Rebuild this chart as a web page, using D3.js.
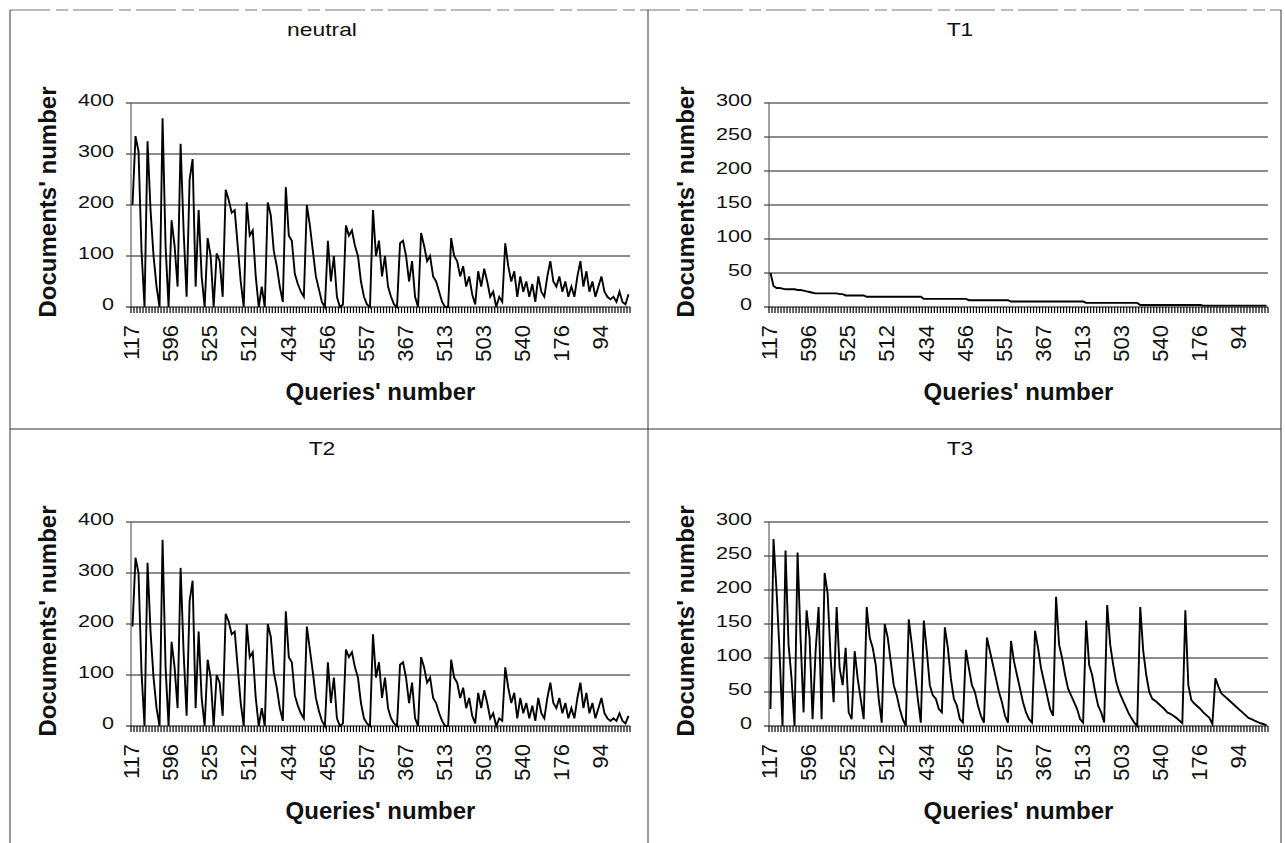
<!DOCTYPE html>
<html>
<head>
<meta charset="utf-8">
<script src="https://cdn.jsdelivr.net/npm/d3@7"></script>
<style>
  body { margin: 0; background: #fff; }
  text { font-family: "Liberation Sans", Arial, sans-serif; fill: #111; }
</style>
</head>
<body>
<div id="chart"></div>
<script>
// query numbers shown on the category axis (one label every 13 queries)
var tickLabels = ["117", "596", "525", "512", "434", "456", "557", "367", "513", "503", "540", "176", "94"];
var labelStep = 13;

// documents per query, one value per query
var neutralDocs = [
  200, 335, 305, 110, 0, 325, 190, 100, 40, 0, 370, 120, 0, 170, 120, 40, 320, 150, 20, 250,
  290, 40, 190, 60, 0, 135, 100, 0, 105, 90, 20, 230, 210, 185, 190, 120, 50, 0, 205, 140,
  150, 60, 0, 40, 0, 205, 180, 110, 80, 40, 10, 235, 140, 130, 65, 45, 30, 20, 200, 160,
  110, 60, 35, 10, 0, 130, 50, 100, 20, 0, 5, 160, 140, 150, 120, 100, 50, 20, 5, 0,
  190, 100, 130, 60, 100, 40, 20, 5, 0, 125, 130, 100, 50, 90, 20, 0, 145, 120, 90, 100,
  60, 50, 30, 10, 0, 0, 135, 100, 90, 60, 80, 40, 60, 25, 5, 70, 40, 75, 50, 20,
  30, 0, 20, 10, 125, 80, 50, 70, 20, 60, 30, 50, 20, 45, 10, 60, 30, 20, 60, 90,
  50, 40, 60, 30, 50, 20, 40, 20, 60, 90, 40, 70, 30, 50, 20, 40, 60, 30, 20, 15,
  20, 10, 30, 10, 5, 25
];

var t1Docs = [
  50, 31, 28, 28, 27, 26, 26, 26, 26, 25, 25, 24, 23, 22, 21, 20, 20, 20, 20, 20,
  20, 20, 20, 19, 19, 17, 17, 17, 17, 17, 17, 17, 15, 15, 15, 15, 15, 15, 15, 15,
  15, 15, 15, 15, 15, 15, 15, 15, 15, 15, 15, 12, 12, 12, 12, 12, 12, 12, 12, 12,
  12, 12, 12, 12, 12, 12, 10, 10, 10, 10, 10, 10, 10, 10, 10, 10, 10, 10, 10, 10,
  8, 8, 8, 8, 8, 8, 8, 8, 8, 8, 8, 8, 8, 8, 8, 8, 8, 8, 8, 8,
  8, 8, 8, 8, 8, 6, 6, 6, 6, 6, 6, 6, 6, 6, 6, 6, 6, 6, 6, 6,
  6, 6, 6, 3, 3, 3, 3, 3, 3, 3, 3, 3, 3, 3, 3, 3, 3, 3, 3, 3,
  3, 3, 3, 3, 2, 2, 2, 2, 2, 2, 2, 2, 2, 2, 2, 2, 2, 2, 2, 2,
  2, 2, 2, 2, 2, 2
];

var t2Docs = [
  195, 330, 300, 105, 0, 320, 185, 95, 35, 0, 365, 115, 0, 165, 115, 35, 310, 145, 20, 245,
  285, 35, 185, 55, 0, 130, 95, 0, 100, 85, 20, 220, 205, 180, 185, 115, 45, 0, 200, 135,
  145, 55, 0, 35, 0, 200, 175, 105, 75, 35, 10, 225, 135, 125, 60, 40, 25, 15, 195, 150,
  105, 55, 30, 10, 0, 125, 45, 95, 15, 0, 5, 150, 135, 145, 115, 95, 45, 15, 5, 0,
  180, 95, 125, 55, 95, 35, 15, 5, 0, 120, 125, 95, 45, 85, 15, 0, 135, 115, 85, 95,
  55, 45, 25, 10, 0, 0, 130, 95, 85, 55, 75, 35, 55, 20, 5, 65, 35, 70, 45, 15,
  25, 0, 15, 10, 115, 75, 45, 65, 15, 55, 25, 45, 15, 40, 10, 55, 25, 15, 55, 85,
  45, 35, 55, 25, 45, 15, 35, 15, 55, 85, 35, 65, 25, 45, 15, 35, 55, 25, 15, 10,
  15, 10, 25, 10, 5, 20
];

var t3Docs = [
  25, 275, 200, 110, 0, 258, 120, 70, 0, 255, 130, 20, 170, 130, 10, 110, 175, 10, 225, 195,
  100, 35, 175, 85, 60, 115, 20, 10, 110, 70, 40, 10, 175, 130, 115, 90, 40, 5, 150, 130,
  95, 60, 45, 25, 10, 0, 157, 120, 80, 40, 5, 155, 110, 60, 45, 40, 25, 20, 145, 115,
  70, 40, 30, 10, 5, 112, 85, 60, 50, 30, 15, 5, 130, 110, 90, 70, 50, 35, 15, 5,
  125, 95, 75, 55, 35, 20, 10, 5, 140, 115, 85, 65, 45, 25, 15, 190, 120, 100, 75, 55,
  45, 35, 25, 10, 5, 155, 90, 75, 50, 30, 20, 5, 178, 120, 90, 65, 50, 40, 30, 20,
  12, 5, 0, 175, 110, 75, 50, 40, 37, 33, 29, 25, 20, 18, 15, 12, 8, 4, 170, 60,
  38, 33, 29, 25, 20, 16, 12, 3, 70, 58, 48, 44, 40, 36, 32, 28, 24, 20, 16, 12,
  10, 8, 6, 4, 3, 1
];

var panels = [
  { title: "neutral", values: neutralDocs, yTicks: [0, 100, 200, 300, 400], left: 10, top: 10 },
  { title: "T1", values: t1Docs, yTicks: [0, 50, 100, 150, 200, 250, 300], left: 648, top: 10 },
  { title: "T2", values: t2Docs, yTicks: [0, 100, 200, 300, 400], left: 10, top: 429 },
  { title: "T3", values: t3Docs, yTicks: [0, 50, 100, 150, 200, 250, 300], left: 648, top: 429 }
];

var width = 1285, height = 843;
var plotX = 121, plotY = 93, plotW = 499, plotH = 204;

var svg = d3.select("#chart").append("svg")
    .attr("width", width)
    .attr("height", height);

// frame around the four charts
var frame = svg.append("g").attr("stroke", "#333").attr("stroke-width", 1);
frame.append("line").attr("x1", 10).attr("y1", 10).attr("x2", 1281).attr("y2", 10)
    .attr("stroke", "#777").attr("stroke-dasharray", "40,6,12,5");
frame.append("line").attr("x1", 10).attr("y1", 10).attr("x2", 10).attr("y2", height);
frame.append("line").attr("x1", 648).attr("y1", 10).attr("x2", 648).attr("y2", height);
frame.append("line").attr("x1", 1281).attr("y1", 10).attr("x2", 1281).attr("y2", height);
frame.append("line").attr("x1", 10).attr("y1", 429).attr("x2", 1281).attr("y2", 429);

panels.forEach(function(p) {
  var g = svg.append("g").attr("transform", "translate(" + p.left + "," + p.top + ")");

  g.append("text")
      .attr("text-anchor", "middle")
      .attr("transform", "translate(312,26) scale(1.27,1)")
      .style("font-size", "18px")
      .text(p.title);

  var plot = g.append("g").attr("transform", "translate(" + plotX + "," + plotY + ")");

  var idx = d3.range(p.values.length);
  var x = d3.scaleBand().domain(idx).range([0, plotW]);
  var y = d3.scaleLinear().domain([0, d3.max(p.yTicks)]).range([plotH, 0]);

  // gridlines with small outside ticks
  plot.selectAll(".grid")
      .data(p.yTicks.filter(function(d) { return d > 0; }))
      .enter().append("line")
      .attr("x1", -5).attr("x2", plotW)
      .attr("y1", function(d) { return y(d); })
      .attr("y2", function(d) { return y(d); })
      .attr("stroke", "#1a1a1a");

  plot.selectAll(".ylab")
      .data(p.yTicks)
      .enter().append("text")
      .attr("text-anchor", "end")
      .attr("dy", "0.3em")
      .attr("transform", function(d) { return "translate(-17," + (y(d) - 2) + ") scale(1.35,1)"; })
      .style("font-size", "16px")
      .text(function(d) { return d; });

  // value axis line
  plot.append("line")
      .attr("x1", 0).attr("x2", 0).attr("y1", 0).attr("y2", plotH)
      .attr("stroke", "#444");

  // category axis: one tick per query plus the labelled ones
  plot.append("g")
      .attr("transform", "translate(0," + plotH + ")")
      .selectAll("line")
      .data(idx.concat([idx.length]))
      .enter().append("line")
      .attr("x1", function(d) { return d < idx.length ? x(d) : plotW; })
      .attr("x2", function(d) { return d < idx.length ? x(d) : plotW; })
      .attr("y1", 0).attr("y2", 6)
      .attr("stroke", "#000")
      .attr("stroke-width", 1.2);

  plot.append("line")
      .attr("x1", -5).attr("x2", plotW).attr("y1", plotH).attr("y2", plotH)
      .attr("stroke", "#000");

  plot.selectAll(".xlab")
      .data(tickLabels)
      .enter().append("text")
      .attr("text-anchor", "end")
      .attr("dy", "0.35em")
      .attr("transform", function(d, i) {
        return "translate(" + (x(i * labelStep) + x.bandwidth() / 2 - 1) + "," + (plotH + 18) + ") rotate(-90)";
      })
      .style("font-size", "22px")
      .text(function(d) { return d; });

  var line = d3.line()
      .x(function(d, i) { return x(i) + x.bandwidth() / 2; })
      .y(function(d) { return y(d); });

  plot.append("path")
      .datum(p.values)
      .attr("d", line)
      .attr("fill", "none")
      .attr("stroke", "#000")
      .attr("stroke-width", 1.9);

  g.append("text")
      .attr("text-anchor", "middle")
      .attr("transform", "translate(38,192) rotate(-90)")
      .attr("dy", "0.35em")
      .style("font-size", "24px")
      .style("font-weight", "bold")
      .text("Documents' number");

  g.append("text")
      .attr("text-anchor", "middle")
      .attr("x", plotX + plotW / 2)
      .attr("y", 390)
      .style("font-size", "24px")
      .style("font-weight", "bold")
      .text("Queries' number");
});
</script>
</body>
</html>
